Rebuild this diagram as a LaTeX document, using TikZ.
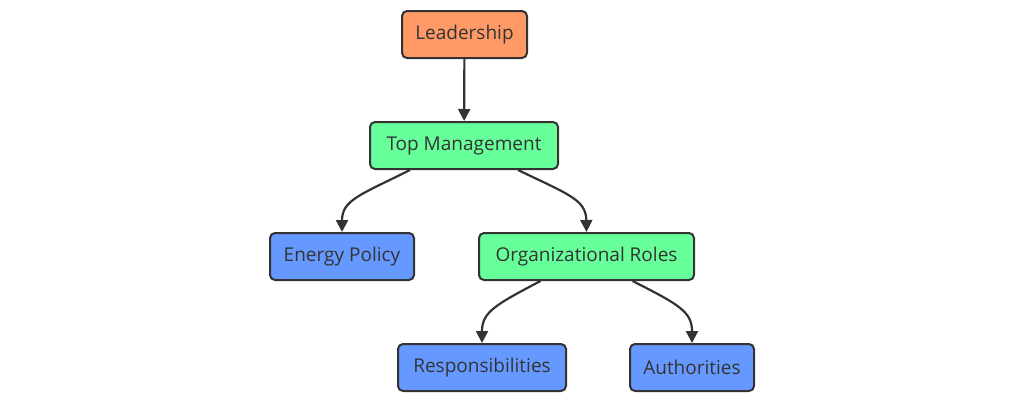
\documentclass[tikz,border=0pt]{standalone}
\usepackage{fontspec}
\setmainfont{Open Sans}
\usetikzlibrary{arrows.meta}
\definecolor{orng}{HTML}{FF9966}
\definecolor{grn}{HTML}{66FF99}
\definecolor{blu}{HTML}{6699FF}
\definecolor{edge}{HTML}{333333}
\begin{document}
\begin{tikzpicture}[x=1pt,y=-1pt,
  box/.style={draw=edge,line width=2pt,rounded corners=5pt,minimum height=47pt,inner xsep=10pt,font=\fontsize{19}{22}\selectfont,text=edge},
  arr/.style={draw=edge,line width=2.2pt,-{Triangle[length=12pt,width=12pt]}}]
\useasboundingbox (0,0) rectangle (1024,402);
\node[box,fill=orng,minimum width=125pt] (lead) at (464.5,34.5) {Leadership};
\node[box,fill=grn,minimum width=188pt] (top) at (464,145.5) {Top Management};
\node[box,fill=blu,minimum width=144pt] (ep) at (342,256.5) {Energy Policy};
\node[box,fill=grn,minimum width=215pt] (org) at (586.5,256.5) {Organizational Roles};
\node[box,fill=blu,minimum width=168pt] (resp) at (482,367.5) {Responsibilities};
\node[box,fill=blu,minimum width=124pt] (auth) at (692,367.5) {Authorities};
\draw[arr] (lead) -- (top);
\draw[arr] ([xshift=-54pt]top.south) .. controls (360,195) and (342,200) .. (ep.north);
\draw[arr] ([xshift=54pt]top.south) .. controls (570,195) and (586,200) .. (org.north);
\draw[arr] ([xshift=-46pt]org.south) .. controls (495,305) and (482,312) .. (resp.north);
\draw[arr] ([xshift=46pt]org.south) .. controls (680,305) and (692,312) .. (auth.north);
\end{tikzpicture}
\end{document}
